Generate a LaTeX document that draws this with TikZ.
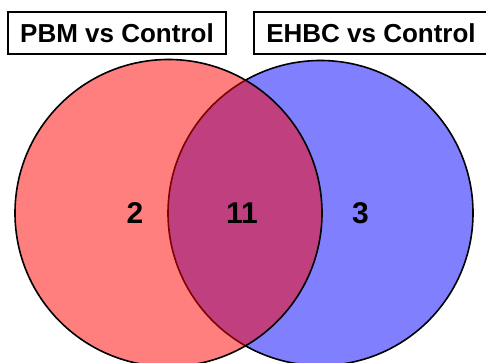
\documentclass[tikz,border=0pt]{standalone}
\usepackage{fontspec}
\setmainfont{Liberation Sans}
\begin{document}
\begin{tikzpicture}[x=1pt,y=-1pt,
  setcircle/.style={circle, draw=black, line width=1.6pt, inner sep=0pt},
  titlebox/.style={draw=black, line width=1.8pt, inner sep=0pt, minimum height=42pt,
    font=\fontsize{26}{26}\selectfont\bfseries},
  count/.style={inner sep=0pt, font=\fontsize{30}{30}\selectfont\bfseries}]
\clip (0,0) rectangle (486,363);
\fill[white] (0,0) rectangle (486,363);
\node[setcircle, fill={rgb,255:red,128;green,128;blue,255}, minimum size=305pt] (ehbc) at (320.5,213) {};
\node[setcircle, fill={rgb,255:red,255;green,0;blue,0}, fill opacity=0.5, minimum size=307pt] (pbm) at (168.5,213) {};
\node[titlebox, minimum width=218pt] (t1) at (117,33) {PBM vs Control};
\node[titlebox, minimum width=234pt] (t2) at (371,33) {EHBC vs Control};
\node[count] (n2) at (135,213) {2};
\node[count] (n11) at (242,213) {11};
\node[count] (n3) at (360.5,213) {3};
\end{tikzpicture}
\end{document}
